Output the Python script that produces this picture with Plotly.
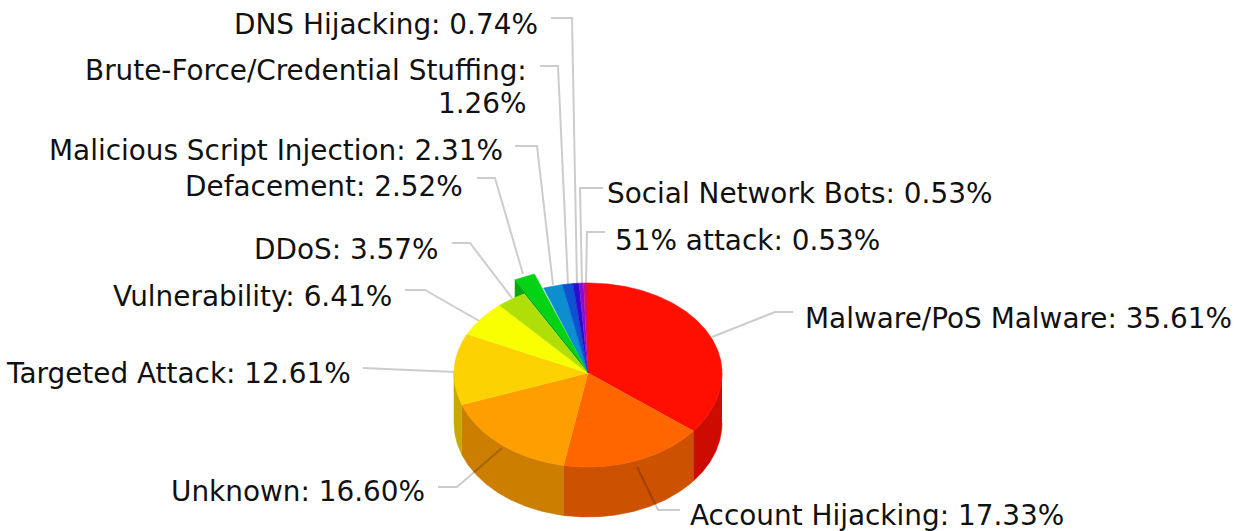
import numpy as np
import plotly.graph_objects as go

# Share of incidents per attack technique, clockwise from twelve o'clock
categories = ["Malware/PoS Malware", "Account Hijacking", "Unknown", "Targeted Attack",
              "Vulnerability", "DDoS", "Defacement", "Malicious Script Injection",
              "Brute-Force/Credential Stuffing", "DNS Hijacking", "Social Network Bots",
              "51% attack"]
values = [35.61, 17.33, 16.60, 12.61, 6.41, 3.57, 2.52, 2.31, 1.26, 0.74, 0.53, 0.53]
colors = ["#FF0F00", "#FF6600", "#FF9E01", "#FCD202", "#F8FF01", "#B0DE09",
          "#04D215", "#0D8ECF", "#0D52D1", "#2A0CD0", "#8A0CCF", "#CD0D74"]
pulled = "Defacement"
wrapped = "Brute-Force/Credential Stuffing"

# Disc geometry in page pixels
CX, CY = 588, 373
RX, RY_UP, RY_DOWN = 134, 90, 94
DEPTH = 50
PULL = 0.17

# Label anchors and leader-line routes, in category order
label_x = [803, 688, 427, 353, 394, 441, 465, 505, 529, 540, 605, 613]
label_y = [318, 515, 491, 373, 296, 249, 186, 150, 70, 24, 193, 240]
label_side = ["left", "left", "right", "right", "right", "right", "right", "right",
              "right", "right", "left", "left"]
WRAP_GAP = 33
leaders = [
    [(712, 337), (775, 312), (793, 312)],
    [(637, 467), (658, 510), (680, 510)],
    [(502, 448), (457, 487), (438, 487)],
    [(455, 372), (363, 368)],
    [(481, 322), (425, 290), (405, 290)],
    [(512, 298), (470, 243), (452, 243)],
    [(523, 274), (495, 178), (477, 178)],
    [(553, 285), (537, 146), (515, 146)],
    [(568, 285), (558, 66), (540, 66)],
    [(577, 285), (572, 18), (551, 18)],
    [(582, 285), (580, 188), (603, 188)],
    [(586, 285), (587, 232), (605, 232)],
]


def shade(hex_color, factor=0.8):
    r, g, b = (int(hex_color[i:i + 2], 16) for i in (1, 3, 5))
    return f"rgb({int(r * factor)},{int(g * factor)},{int(b * factor)})"


def rim(start, stop, dx=0.0, dy=0.0, drop=0.0, n=None):
    """Points on the disc edge between two clockwise angles, in degrees from the top."""
    n = n or max(int(abs(stop - start)) * 2, 2)
    t = np.radians(np.linspace(start, stop, n))
    ry = np.where(np.cos(t) >= 0, RY_UP, RY_DOWN)
    return CX + dx + RX * np.sin(t), CY + dy + drop - ry * np.cos(t)


def polygon(x, y, color):
    return go.Scatter(x=list(x), y=list(y), mode="lines", fill="toself", fillcolor=color,
                      line=dict(color=color, width=0.6), hoverinfo="skip", showlegend=False)


share = np.array(values) / sum(values) * 360
stops = np.cumsum(share)
starts = stops - share

fig = go.Figure()

# Leader lines run underneath the disc top but stay visible on the walls
leader_traces = [
    go.Scatter(x=[p[0] for p in route], y=[p[1] for p in route], mode="lines",
               line=dict(color="rgba(0,0,0,0.2)", width=2), hoverinfo="skip", showlegend=False)
    for route in leaders
]
fig.add_traces(leader_traces[3:])

# Outer walls of the front half
for a, b, c in zip(starts, stops, colors):
    lo, hi = max(a, 90), min(b, 270)
    if lo >= hi:
        continue
    xt, yt = rim(lo, hi)
    xb, yb = rim(lo, hi, drop=DEPTH)
    fig.add_trace(polygon(np.r_[xt, xb[::-1]], np.r_[yt, yb[::-1]], shade(c)))

# Pulled slice: side wall first, so neighbouring tops cover its lower part
i = categories.index(pulled)
mid = np.radians((starts[i] + stops[i]) / 2)
dx, dy = RX * PULL * np.sin(mid), -RY_UP * PULL * np.cos(mid)
xl, yl = rim(starts[i], starts[i], dx, dy, n=2)
xn, yn = rim(starts[i], starts[i], n=2)
fig.add_trace(polygon([CX, CX + dx, xl[0], xl[0], xn[0]],
                      [CY, CY + dy, yl[0], yl[0] + 18, yn[0]], shade(colors[i])))

# Disc tops
for k, (a, b, c) in enumerate(zip(starts, stops, colors)):
    if k == i:
        continue
    x, y = rim(a, b)
    fig.add_trace(polygon(np.r_[CX, x], np.r_[CY, y], c))

x, y = rim(starts[i], stops[i], dx, dy)
fig.add_trace(polygon(np.r_[CX + dx, x, CX], np.r_[CY + dy, y, CY], colors[i]))

fig.add_traces(leader_traces[:3])


def put_label(x0, y0, text, side):
    fig.add_annotation(x=x0, y=y0, text=text, showarrow=False, xanchor=side, yanchor="middle",
                       align=side, font=dict(family="DejaVu Sans", size=27.9, color="#111111"))


for name, value, x0, y0, side in zip(categories, values, label_x, label_y, label_side):
    if name == wrapped:
        put_label(x0, y0, f"{name}:", side)
        put_label(x0, y0 + WRAP_GAP, f"{value:.2f}%", side)
    else:
        put_label(x0, y0, f"{name}: {value:.2f}%", side)

fig.update_xaxes(range=[0, 1234], visible=False, fixedrange=True)
fig.update_yaxes(range=[531, 0], visible=False, fixedrange=True)
fig.update_layout(width=1234, height=531, margin=dict(l=0, r=0, t=0, b=0),
                  paper_bgcolor="white", plot_bgcolor="white", showlegend=False)
fig.write_html("out.html", config={"displayModeBar": False})
